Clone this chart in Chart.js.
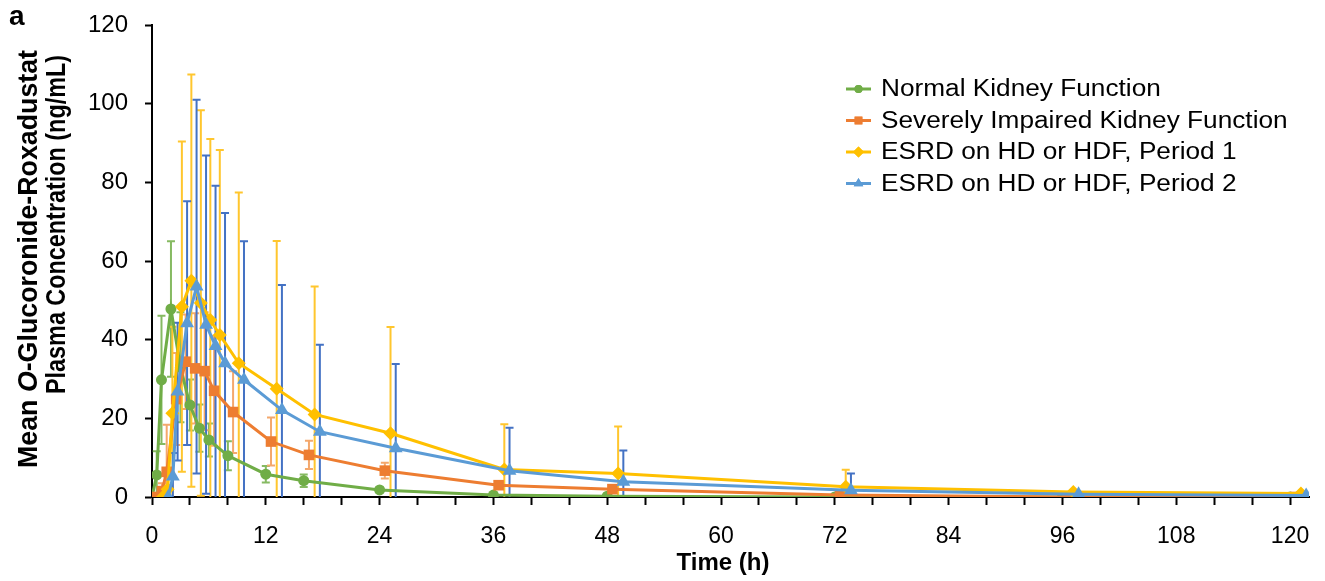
<!DOCTYPE html>
<html>
<head>
<meta charset="utf-8">
<title>O-Glucoronide-Roxadustat plasma concentration</title>
<script src="https://cdn.jsdelivr.net/npm/chart.js@4.4.1/dist/chart.umd.min.js"></script>
<style>
  html, body { margin: 0; padding: 0; background: #fff; }
  #wrap { width: 1325px; height: 581px; position: relative; }
</style>
</head>
<body>
<div id="wrap"><canvas id="myChart" width="1325" height="581"></canvas></div>
<script>
// nominal sampling times (h)
var times = [0, 0.5, 1, 2, 3, 4, 5, 6, 8, 12, 16, 24, 36, 48, 72, 96, 120];

// mean concentrations (ng/mL) and SD
var normalMean = [0, 5.6, 29.8, 47.8, 33, 23.4, 17.5, 14.5, 10.5, 5.8, 4.15, 1.8, 0.5, 0.2, 0, 0, 0];
var normalSd   = [0, 6, 16.3, 17.2, 14, 6.5, 6, 4.2, 3.7, 2.1, 1.6, 0.6, 0.4, 0.2, 0, 0, 0];

var severeMean = [0, 1.5, 6.4, 24.9, 34.4, 32.7, 32, 27, 21.6, 14.1, 10.7, 6.7, 3.0, 2.0, 0.5, 0, 0];
var severeSd   = [0, 2, 12, 11.7, 12, 14, 15, 14, 10.4, 6.1, 3.6, 2.0, 0.6, 0.4, 0.2, 0, 0];

var esrd1Mean = [0, 2, 21.3, 48.4, 55, 49.3, 45, 41.2, 34, 27.5, 21, 16.2, 7.0, 6.0, 2.6, 1.3, 0.9];
var esrd1Sd   = [0, 3, 22, 42, 52.4, 49, 46, 47, 43.4, 37.6, 32.5, 27, 11.5, 11.9, 4.3, 0.5, 0.4];

var esrd2Mean = [0, 5.2, 26.8, 44.2, 53.5, 43.8, 38.4, 34, 29.8, 22.1, 16.6, 12.4, 6.7, 3.9, 1.7, 0.7, 0.4];
var esrd2Sd   = [0, 6, 17.5, 31, 47.5, 43, 40.7, 38.2, 35.2, 31.8, 22.1, 21.4, 10.9, 7.9, 4.3, 0.5, 0.3];

// small horizontal dodge per group (h) so the points don't sit on top of each other
var dodge = [0, 0.55, 1.15, 1.7];

var labels = [
  "Normal Kidney Function",
  "Severely Impaired Kidney Function",
  "ESRD on HD or HDF, Period 1",
  "ESRD on HD or HDF, Period 2"
];

var FONT = "'Liberation Sans', Arial, Helvetica, sans-serif";

function pts(mean, shift) {
  return mean.map(function (v, i) { return { x: times[i] + shift, y: v }; });
}

var groups = [
  { mean: normalMean, sd: normalSd, color: '#70AD47', bar: '#86BA62', style: 'circle', r: 5.5 },
  { mean: severeMean, sd: severeSd, color: '#ED7D31', bar: '#F4A86C', style: 'rect', r: 7.5 },
  { mean: esrd1Mean, sd: esrd1Sd, color: '#FFC000', bar: '#FFC62E', style: 'rectRot', r: 7 },
  { mean: esrd2Mean, sd: esrd2Sd, color: '#5B9BD5', bar: '#4472C4', style: 'triangle', r: 8 }
];

var datasets = groups.map(function (g, k) {
  return {
    label: labels[k],
    data: pts(g.mean, dodge[k]),
    sd: g.sd,
    barColor: g.bar,
    borderColor: g.color,
    backgroundColor: g.color,
    borderWidth: 3,
    pointStyle: g.style,
    pointRadius: g.r,
    pointBorderWidth: 0,
    pointBackgroundColor: g.color,
    tension: 0,
    order: 3 - k
  };
});

// SD bars, drawn before the lines so markers sit over them
var errorBars = {
  id: 'errorBars',
  beforeDatasetsDraw: function (chart) {
    var ctx = chart.ctx, a = chart.chartArea;
    var xs = chart.scales.x, ys = chart.scales.y;
    ctx.save();
    ctx.beginPath();
    ctx.rect(a.left, a.top - 6, a.right - a.left, a.bottom - a.top + 6);
    ctx.clip();
    ctx.lineWidth = 2;
    chart.data.datasets.forEach(function (ds) {
      ctx.strokeStyle = ds.barColor;
      ds.data.forEach(function (p, i) {
        var sd = ds.sd[i];
        if (!sd) return;
        var px = xs.getPixelForValue(p.x);
        var t = ys.getPixelForValue(p.y + sd);
        var b = ys.getPixelForValue(p.y - sd);
        ctx.beginPath();
        ctx.moveTo(px, t); ctx.lineTo(px, b);
        ctx.moveTo(px - 4, t); ctx.lineTo(px + 4, t);
        ctx.moveTo(px - 4, b); ctx.lineTo(px + 4, b);
        ctx.stroke();
      });
    });
    ctx.restore();
  }
};

// text squeezed or stretched along its baseline to a given length
function fitText(ctx, pieces, size, len) {
  var w = 0;
  pieces.forEach(function (p) { ctx.font = p[1] + size + 'px ' + FONT; w += ctx.measureText(p[0]).width; });
  ctx.scale(len / w, 1);
  var x = 0;
  pieces.forEach(function (p) {
    ctx.font = p[1] + size + 'px ' + FONT;
    ctx.fillText(p[0], x, 0);
    x += ctx.measureText(p[0]).width;
  });
}

// legend, axis titles and panel letter
var decorations = {
  id: 'decorations',
  afterDraw: function (chart) {
    var ctx = chart.ctx;
    ctx.save();
    ctx.fillStyle = '#000';
    ctx.textAlign = 'left';
    ctx.textBaseline = 'alphabetic';

    // panel letter
    ctx.font = 'bold 28px ' + FONT;
    ctx.fillText('a', 9, 25);

    // x title
    ctx.font = 'bold 24px ' + FONT;
    ctx.textAlign = 'center';
    ctx.fillText('Time (h)', 723, 570);
    ctx.textAlign = 'left';

    // y title, two lines, O in italic
    ctx.save();
    ctx.translate(37, 468);
    ctx.rotate(-Math.PI / 2);
    fitText(ctx, [['Mean ', 'bold '], ['O', 'italic bold '], ['-Glucoronide-Roxadustat', 'bold ']], 27, 418);
    ctx.restore();
    ctx.save();
    ctx.translate(65, 394);
    ctx.rotate(-Math.PI / 2);
    fitText(ctx, [['Plasma Concentration (ng/mL)', 'bold ']], 27, 339);
    ctx.restore();

    // legend
    ctx.textBaseline = 'middle';
    chart.data.datasets.forEach(function (ds, k) {
      var yy = 89 + k * 31.5;
      var opts = { pointStyle: ds.pointStyle, radius: ds.pointStyle === 'circle' ? 4 : 5.5, borderWidth: 0, rotation: 0 };
      ctx.strokeStyle = ds.borderColor;
      ctx.lineWidth = 3;
      ctx.beginPath();
      ctx.moveTo(846, yy); ctx.lineTo(871, yy);
      ctx.stroke();
      ctx.fillStyle = ds.borderColor;
      Chart.helpers.drawPoint(ctx, opts, 858.5, yy);
      ctx.fill();
      ctx.fillStyle = '#000';
      ctx.save();
      ctx.translate(881, yy + 1);
      ctx.font = '23px ' + FONT;
      ctx.scale(1.14, 1);
      ctx.fillText(ds.label, 0, 0);
      ctx.restore();
    });
    ctx.restore();
  }
};

var ctx = document.getElementById('myChart').getContext('2d');

var myChart = new Chart(ctx, {
  type: 'line',
  data: { datasets: datasets },
  options: {
    responsive: false,
    animation: false,
    devicePixelRatio: 1,
    layout: { padding: { top: 25, right: 16, left: 0, bottom: 0 } },
    plugins: {
      legend: { display: false },
      tooltip: { enabled: false }
    },
    scales: {
      x: {
        type: 'linear',
        min: 0,
        max: 122,
        afterFit: function (s) { s.height = 84; s.paddingLeft = 0; s.paddingRight = 0; },
        border: { display: true, color: '#000', width: 2 },
        grid: { drawOnChartArea: false, drawTicks: true, tickLength: 8, tickWidth: 2, tickColor: '#000' },
        ticks: {
          stepSize: 4,
          includeBounds: false,
          autoSkip: false,
          maxRotation: 0,
          padding: 18,
          color: '#000',
          font: { family: FONT, size: 23 },
          callback: function (v) { return v % 12 === 0 ? String(v) : ''; }
        }
      },
      y: {
        min: 0,
        max: 120,
        afterFit: function (s) { s.width = 152; s.paddingTop = 0; s.paddingBottom = 0; },
        border: { display: true, color: '#000', width: 2 },
        grid: { drawOnChartArea: false, drawTicks: true, tickLength: 7, tickWidth: 2, tickColor: '#000' },
        ticks: {
          stepSize: 20,
          padding: 17,
          color: '#000',
          font: { family: FONT, size: 24 }
        }
      }
    }
  },
  plugins: [errorBars, decorations]
});
</script>
</body>
</html>
